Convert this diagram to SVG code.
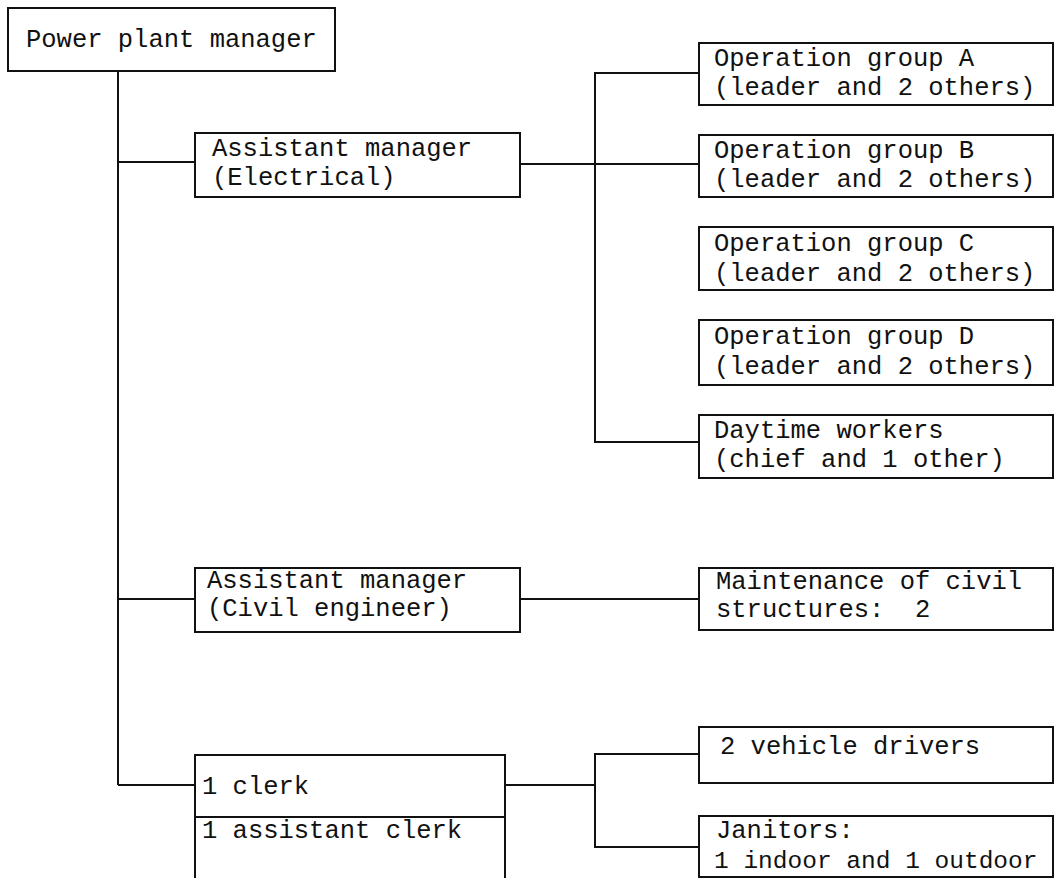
<svg xmlns="http://www.w3.org/2000/svg" width="1056" height="878" viewBox="0 0 1056 878">
<style>
.box{fill:#fff;stroke:#111;stroke-width:2}
.ln{fill:none;stroke:#111;stroke-width:2}
text{font-family:"Liberation Mono","Courier New",monospace;font-size:25.5px;fill:#111}
</style>
<rect width="1056" height="878" fill="#fff"/>
<g id="connectors" class="ln">
<path d="M118 71V785"/>
<path d="M118 162H195"/>
<path d="M118 599H195"/>
<path d="M118 785H195"/>
<path d="M520 164H699"/>
<path d="M699 73H595V442H699"/>
<path d="M520 599H699"/>
<path d="M505 785H595"/>
<path d="M699 754H595V847H699"/>
</g>
<g id="n-manager"><rect class="box" x="8" y="8" width="327" height="63"/><text x="26" y="47">Power plant manager</text></g>
<g id="n-am-elec"><rect class="box" x="195" y="133" width="325" height="64"/><text x="212" y="156">Assistant manager</text><text x="212" y="185">(Electrical)</text></g>
<g id="n-opA"><rect class="box" x="699" y="43" width="354" height="62"/><text x="714" y="66">Operation group A</text><text x="714" y="95">(leader and 2 others)</text></g>
<g id="n-opB"><rect class="box" x="699" y="135" width="354" height="62"/><text x="714" y="158">Operation group B</text><text x="714" y="187">(leader and 2 others)</text></g>
<g id="n-opC"><rect class="box" x="699" y="227" width="354" height="63"/><text x="714" y="251">Operation group C</text><text x="714" y="281">(leader and 2 others)</text></g>
<g id="n-opD"><rect class="box" x="699" y="320" width="354" height="65"/><text x="714" y="344">Operation group D</text><text x="714" y="374">(leader and 2 others)</text></g>
<g id="n-daytime"><rect class="box" x="699" y="415" width="354" height="63"/><text x="714" y="438">Daytime workers</text><text x="714" y="467">(chief and 1 other)</text></g>
<g id="n-am-civil"><rect class="box" x="195" y="568" width="325" height="64"/><text x="207" y="588">Assistant manager</text><text x="207" y="616">(Civil engineer)</text></g>
<g id="n-maint"><rect class="box" x="699" y="568" width="354" height="62"/><text x="716" y="589">Maintenance of civil</text><text x="716" y="617">structures:&#160; 2</text></g>
<g id="n-clerk"><rect class="box" x="195" y="755" width="310" height="130"/><path class="ln" d="M195 817H505"/><text x="202" y="794">1 clerk</text><text x="202" y="838">1 assistant clerk</text></g>
<g id="n-drivers"><rect class="box" x="699" y="727" width="354" height="56"/><text x="720" y="754">2 vehicle drivers</text></g>
<g id="n-janitors"><rect class="box" x="699" y="816" width="354" height="61"/><text x="716" y="838">Janitors:</text><text x="714" y="868" style="font-size:24.5px">1 indoor and 1 outdoor</text></g>
</svg>
